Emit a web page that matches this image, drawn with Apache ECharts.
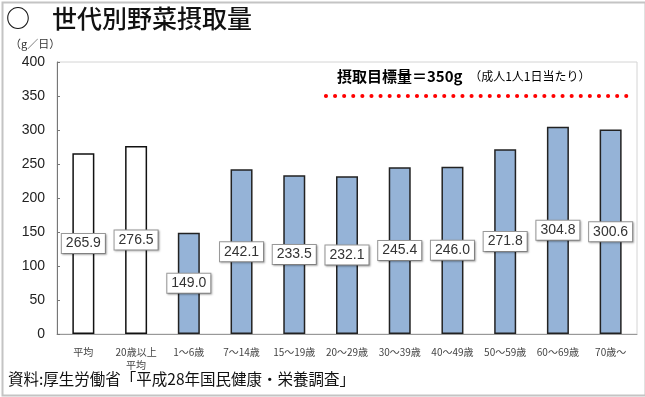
<!DOCTYPE html>
<html>
<head>
<meta charset="utf-8">
<script src="https://cdn.jsdelivr.net/npm/echarts@6/dist/echarts.min.js"></script>
<style>
  html, body { margin: 0; padding: 0; background: #fff; }
  #chart { width: 645px; height: 397px; }
</style>
</head>
<body>
<div id="chart"></div>
<script>
// 年代区分
var categories = ['平均', '20歳以上\n平均', '1～6歳', '7～14歳', '15～19歳', '20～29歳',
    '30～39歳', '40～49歳', '50～59歳', '60～69歳', '70歳～'];
// 野菜摂取量 (g/日)
var intake = [265.9, 276.5, 149.0, 242.1, 233.5, 232.1, 245.4, 246.0, 271.8, 304.8, 300.6];
// 平均値として白抜きで描く本数
var averageCount = 2;
// 目標量
var target = 350;
var targetSpan = [5.1, 10.9];
var yTicks = [0, 400, 50];

var jpFont = '"Noto Sans CJK JP", sans-serif';
var numFont = '"Liberation Sans", Arial, sans-serif';

var chart = echarts.init(document.getElementById('chart'));

var barData = intake.map(function (v, i) {
    if (i < averageCount) {
        return {value: v, itemStyle: {color: '#ffffff', borderColor: '#111', borderWidth: 1.5}};
    }
    return v;
});

var option = {
    backgroundColor: '#ffffff',
    animation: false,
    grid: {
        left: 57, top: 62, right: 8, bottom: 63,
        show: true, borderColor: '#d4d4d4', borderWidth: 1
    },
    xAxis: [
        {
            type: 'category',
            data: categories,
            axisLine: {lineStyle: {color: '#999', width: 1}},
            axisTick: {inside: true, length: 3, lineStyle: {color: '#777'}},
            axisLabel: {
                interval: 0, margin: 12, fontSize: 10, lineHeight: 13,
                color: '#444', fontFamily: jpFont
            }
        },
        {
            type: 'value', min: 0, max: categories.length, show: false
        }
    ],
    yAxis: {
        type: 'value',
        min: yTicks[0], max: yTicks[1], interval: yTicks[2],
        splitLine: {show: false},
        axisLine: {show: true, lineStyle: {color: '#777', width: 1}},
        axisTick: {show: true, inside: true, length: 3, lineStyle: {color: '#777'}},
        axisLabel: {fontSize: 14, color: '#222', margin: 12, fontFamily: numFont}
    },
    series: [
        {
            type: 'bar',
            data: barData,
            barWidth: 22,
            itemStyle: {color: '#95b3d7', borderColor: '#222', borderWidth: 1.5},
            label: {
                show: true,
                position: 'inside',
                formatter: function (p) { return p.value.toFixed(1); },
                fontFamily: numFont, fontSize: 14, color: '#333',
                backgroundColor: '#fff', borderColor: '#9a9a9a', borderWidth: 1,
                padding: [3, 4, 2, 4],
                shadowColor: 'rgba(0,0,0,0.25)', shadowBlur: 2, shadowOffsetX: 1, shadowOffsetY: 1
            }
        },
        {
            type: 'line',
            xAxisIndex: 1,
            data: [[targetSpan[0], target], [targetSpan[1], target]],
            symbol: 'none',
            silent: true,
            lineStyle: {color: '#ff0000', width: 4, type: [0.1, 9], cap: 'round'}
        }
    ],
    graphic: [
        {
            type: 'rect', left: 0, top: 0,
            shape: {width: 643, height: 393},
            style: {fill: 'none', stroke: '#c4c4c4', lineWidth: 2}
        },
        {
            type: 'text', left: 6, top: 6,
            style: {text: '○', font: 'bold 24px ' + jpFont, fill: '#111'}
        },
        {
            type: 'text', left: 52, top: 6,
            style: {text: '世代別野菜摂取量', font: '500 25px ' + jpFont, fill: '#111'}
        },
        {
            type: 'text', left: 10, top: 38,
            style: {text: '（g／日）', font: '11px ' + jpFont, fill: '#333'}
        },
        {
            type: 'text', left: 337, top: 69,
            style: {
                text: '{a|摂取目標量＝350g}  {b|（成人1人1日当たり）}',
                rich: {
                    a: {fontFamily: jpFont, fontSize: 15, fontWeight: 'bold', color: '#333'},
                    b: {fontFamily: jpFont, fontSize: 12, color: '#444'}
                }
            }
        },
        {
            type: 'text', left: 8, top: 371,
            style: {text: '資料:厚生労働省「平成28年国民健康・栄養調査」', font: '15.5px ' + jpFont, fill: '#111'}
        }
    ]
};

chart.setOption(option);
</script>
</body>
</html>
